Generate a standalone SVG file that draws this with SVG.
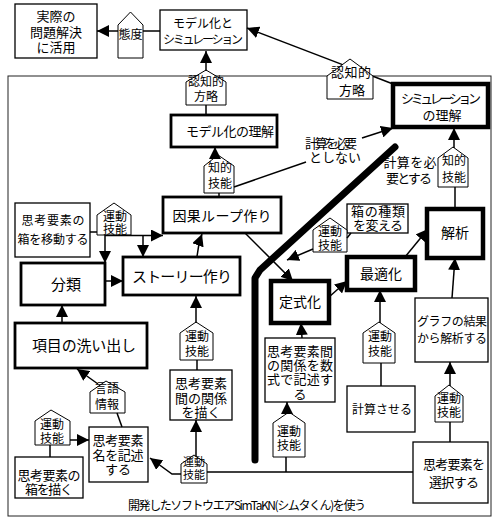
<svg xmlns="http://www.w3.org/2000/svg" width="496" height="520" viewBox="0 0 496 520">
<style>
text{font-family:"Noto Sans CJK JP","Noto Sans",sans-serif;fill:#000;text-anchor:middle;font-size:13px}
.s11{font-size:11px}.s12{font-size:12px}.s14{font-size:14px}.s15{font-size:15px}
.box{fill:#fff;stroke:#000;stroke-width:1.3}
.thick{stroke-width:2.8}
.bold{stroke-width:4.5}
.pent{fill:#fff;stroke:#000;stroke-width:1}
.c{fill:none;stroke:#000;stroke-width:1.5}
.a{marker-end:url(#ah)}
</style>
<defs>
<marker id="ah" markerUnits="userSpaceOnUse" markerWidth="13" markerHeight="12" refX="12" refY="6" orient="auto">
<path d="M0,0 L12,6 L0,12 z" fill="#000"/>
</marker>
</defs>
<rect x="8" y="76" width="483" height="440" fill="none" stroke="#222" stroke-width="1"/>

<g id="jissai"><rect class="box" x="15" y="4" width="82" height="54"/><text x="56" y="21">実際の</text><text x="56" y="37">問題解決</text><text x="56" y="52">に活用</text></g>
<g id="taido"><polygon class="pent" points="118,58 118,25 130.5,12 143,25 143,58"/><text class="s12" x="130.5" y="39">態度</text></g>
<g id="model_sim"><rect class="box" x="160" y="10" width="87" height="40"/><text class="s12" x="203" y="28" textLength="60">モデル化と</text><text class="s12" x="203" y="44" textLength="80">シミュレーション</text></g>
<g id="ninchi1"><polygon class="pent" points="186,105 186,82 206,70 226,82 226,105"/><text class="s12" x="206" y="86">認知的</text><text class="s12" x="206" y="101">方略</text></g>
<g id="ninchi2"><polygon class="pent" points="327,99 327,76 350,59 373,76 373,99"/><text x="351" y="77" textLength="40">認知的</text><text x="352" y="95">方略</text></g>
<g id="model_rikai"><rect class="box thick" x="171" y="115" width="106" height="32"/><text x="230" y="136" textLength="88">モデル化の理解</text></g>
<g id="sim_rikai"><rect class="box bold" x="393" y="84" width="95" height="43"/><text x="441" y="103" textLength="80">シミュレーション</text><text x="442" y="120">の理解</text></g>
<g id="chiteki1"><polygon class="pent" points="204,193 204,166 218,155 234,166 234,193"/><text class="s12" x="220" y="172">知的</text><text class="s12" x="220" y="188">技能</text></g>
<g id="lbl_fuyou"><text x="331" y="148" textLength="52">計算を必要</text><text x="335" y="162">としない</text></g>
<g id="lbl_hitsuyou"><text x="410" y="167" textLength="53">計算を必</text><text x="409" y="183" textLength="46">要とする</text></g>
<g id="chiteki2"><polygon class="pent" points="438,187 438,158 453,147 468,158 468,187"/><text class="s12" x="454" y="165">知的</text><text class="s12" x="454" y="182">技能</text></g>
<g id="kaiseki"><rect class="box bold" x="427" y="209" width="56" height="49"/><text class="s14" x="455" y="238">解析</text></g>
<g id="hako_shurui"><rect class="box" x="347" y="204" width="61" height="29"/><text x="378" y="216" textLength="54">箱の種類</text><text x="378" y="230" textLength="50">を変える</text></g>
<g id="undo_mid"><polygon class="pent" points="313,252 313,230 330,218 347,230 347,252"/><text class="s12" x="330" y="236">運動</text><text class="s12" x="330" y="250">技能</text></g>
<g id="idou"><rect class="box" x="15" y="203" width="75" height="54"/><text class="s12" x="53" y="225" textLength="63">思考要素の</text><text class="s12" x="53" y="244" textLength="71">箱を移動する</text></g>
<g id="undo_idou"><polygon class="pent" points="97,235 97,215 114,203 131,215 131,235"/><text class="s12" x="115" y="221">運動</text><text class="s12" x="115" y="234">技能</text></g>
<g id="inga"><rect class="box thick" x="163" y="197" width="118" height="36"/><text class="s14" x="222" y="221" textLength="99">因果ループ作り</text></g>
<g id="story"><rect class="box thick" x="123" y="257" width="117" height="38"/><text class="s15" x="182" y="282" textLength="100">ストーリー作り</text></g>
<g id="bunrui"><rect class="box thick" x="21" y="263" width="84" height="42"/><text class="s15" x="66" y="290">分類</text></g>
<g id="koumoku"><rect class="box thick" x="15" y="323" width="132" height="45"/><text class="s15" x="84" y="351" textLength="104">項目の洗い出し</text></g>
<g id="teishiki"><rect class="box bold" x="271" y="281" width="58" height="42"/><text class="s14" x="300" y="307">定式化</text></g>
<g id="saiteki"><rect class="box bold" x="347" y="257" width="68" height="33"/><text class="s14" x="381" y="279">最適化</text></g>
<g id="undo_saiteki"><polygon class="pent" points="363,363 363,333 379,322 395,333 395,363"/><text class="s12" x="380" y="341">運動</text><text class="s12" x="380" y="356">技能</text></g>
<g id="keisan"><rect class="box" x="347" y="386" width="68" height="46"/><text class="s12" x="382" y="414" textLength="60">計算させる</text></g>
<g id="graph"><rect class="box" x="415" y="298" width="73" height="64"/><text class="s12" x="452" y="326" textLength="70">グラフの結果</text><text class="s12" x="452" y="343" textLength="70">から解析する</text></g>
<g id="undo_graph"><polygon class="pent" points="435,422 435,396 449,385 463,396 463,422"/><text class="s12" x="449" y="403">運動</text><text class="s12" x="449" y="417">技能</text></g>
<g id="sentaku"><rect class="box" x="413" y="442" width="75" height="61"/><text x="454" y="469" textLength="62">思考要素を</text><text x="454" y="487" textLength="50">選択する</text></g>
<g id="suushiki"><rect class="box" x="265" y="338" width="70" height="64"/><text x="300" y="356" textLength="66">思考要素間</text><text x="300" y="370" textLength="66">の関係を数</text><text x="300" y="384" textLength="66">式で記述す</text><text x="300" y="399">る</text></g>
<g id="undo_suushiki"><polygon class="pent" points="273,457 273,423 289,412 305,423 305,457"/><text class="s12" x="289" y="436">運動</text><text class="s12" x="289" y="450">技能</text></g>
<g id="kankei"><rect class="box" x="170" y="370" width="62" height="50"/><text x="201" y="388" textLength="52">思考要素</text><text x="201" y="403" textLength="52">間の関係</text><text x="201" y="417">を描く</text></g>
<g id="undo_story"><polygon class="pent" points="180,360 180,333 196,322 213,333 213,360"/><text class="s12" x="197" y="341">運動</text><text class="s12" x="197" y="356">技能</text></g>
<g id="undo_bottom"><polygon class="pent" points="181,483 181,464 194,455 207,464 207,483"/><text class="s11" x="194" y="466">運動</text><text class="s11" x="194" y="479">技能</text></g>
<g id="meikijutsu"><rect class="box" x="89" y="427" width="59" height="55"/><text x="118" y="445" textLength="51">思考要素</text><text x="118" y="460" textLength="51">名を記述</text><text x="118" y="474">する</text></g>
<g id="gengo"><polygon class="pent" points="90,413 90,392 106,381 125,392 125,413"/><text class="s12" x="107" y="393">言語</text><text class="s12" x="107" y="409">情報</text></g>
<g id="undo_left"><polygon class="pent" points="35,445 35,421 51,410 70,421 70,445"/><text class="s12" x="52" y="429">運動</text><text class="s12" x="52" y="443">技能</text></g>
<g id="hako_kaku"><rect class="box" x="15" y="457" width="68" height="41"/><text x="49" y="480" textLength="63">思考要素の</text><text x="49" y="494" textLength="48">箱を描く</text></g>

<g id="connectors">
<path class="c" d="M160,31 H143"/><path class="c a" d="M118,31 H97"/>
<path class="c" d="M393,84 L373,76.3"/><path class="c a" d="M342.5,64.6 L247,28"/>
<path class="c a" d="M206,71 V51"/>
<path class="c" d="M206,105 V115"/>
<path class="c a" d="M215,159 V147"/>
<path class="c" d="M219,193 V197"/>
<path class="c" d="M234,187 L306,162"/>
<path class="c a" d="M362,138 L393,128"/>
<path class="c a" d="M454,148 V128"/>
<path class="c" d="M455,187 V209"/>
<path class="c" d="M347,238 L351,233"/>
<path class="c a" d="M313,249 L287,260"/>
<path class="c a" d="M245,233 L293,281"/>
<path class="c a" d="M329,297 L347,281"/>
<path class="c a" d="M405,257 L428,229"/>
<path class="c a" d="M380,323 V290"/>
<path class="c" d="M381,363 V386"/>
<path class="c a" d="M452,298 L455,258"/>
<path class="c a" d="M450,386 V362"/>
<path class="c" d="M450,422 V442"/>
<path class="c" d="M207,472 H413 M286,457 V472"/>
<path class="c a" d="M287,413 V402"/>
<path class="c a" d="M302,338 L301,323"/>
<path class="c a" d="M196,323 V296"/>
<path class="c" d="M197,360 V370"/>
<path class="c a" d="M196,456 V420"/>
<path class="c a" d="M181,474 H172 L150,458"/>
<path class="c a" d="M98,384 L77,369"/>
<path class="c" d="M117,413 L122,427"/>
<path class="c a" d="M70,440 H89"/>
<path class="c" d="M50,445 V457"/>
<path class="c" d="M90,232 H97"/>
<path class="c a" d="M105,235.5 H163"/>
<path class="c a" d="M105,235 V263"/>
<path class="c a" d="M143,236 V257"/>
<path class="c a" d="M197,257 Q198,245 202,234"/>
<path class="c a" d="M105,281 H123"/>
<path class="c a" d="M62,323 V305"/>
</g>
<g id="divider"><polyline points="395,147 260,270 255,278 255,460" fill="none" stroke="#000" stroke-width="7" stroke-linecap="round" stroke-linejoin="round"/></g>
<text class="s12" x="247" y="510" textLength="238">開発したソフトウエアSimTaKN(シムタくん)を使う</text>
</svg>
